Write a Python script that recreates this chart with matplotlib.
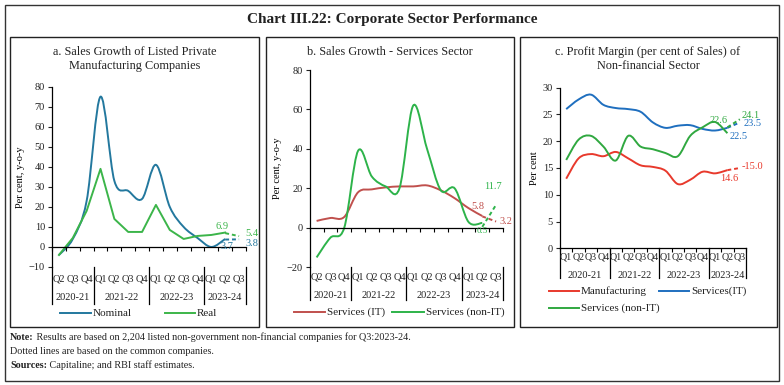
import matplotlib
matplotlib.use("Agg")
import matplotlib.pyplot as plt
from matplotlib.path import Path
from matplotlib.patches import PathPatch, Rectangle
from matplotlib.transforms import blended_transform_factory
import numpy as np

plt.rcParams['font.family'] = ['Liberation Serif', 'DejaVu Serif']

# ---- data ----
quarters_ab = ['Q2', 'Q3', 'Q4', 'Q1', 'Q2', 'Q3', 'Q4', 'Q1', 'Q2', 'Q3', 'Q4', 'Q1', 'Q2', 'Q3']
quarters_c = ['Q1', 'Q2', 'Q3', 'Q4', 'Q1', 'Q2', 'Q3', 'Q4', 'Q1', 'Q2', 'Q3', 'Q4', 'Q1', 'Q2', 'Q3']
years = ['2020-21', '2021-22', '2022-23', '2023-24']
year_counts_ab = [3, 4, 4, 3]
year_counts_c = [4, 4, 4, 3]

# panel a: sales growth of listed private manufacturing companies (per cent, y-o-y)
nominal = [-4, 4, 23, 75, 33, 28, 24, 41, 20, 10, 4.5, 0, 4.0]
nominal_common = [3.7, 3.8]
real = [-4, 4.5, 18, 39, 14, 7.5, 7.5, 21, 8.5, 4, 5.5, 6, 7.2]
real_common = [6.9, 5.4]

# panel b: sales growth of services sector
serv_it = [3.5, 5, 5.5, 18, 19.5, 20.5, 21, 21, 21.5, 19, 15, 10, 6]
serv_it_common = [5.8, 3.2]
serv_nonit = [-15, -5, 0, 39, 26, 21, 20, 62, 40, 19, 20, 3, 2.5]
serv_nonit_common = [0.5, 11.7]

# panel c: profit margin (per cent of sales)
manuf_pm = [13, 16.8, 17.6, 17.2, 18.0, 16.8, 15.5, 15.2, 14.5, 12.0, 12.8, 14.3, 14.0, 14.6]
manuf_pm_common = [14.6, 15.0]
it_pm = [26.0, 27.8, 28.7, 26.8, 26.2, 26.0, 25.5, 23.5, 22.5, 22.9, 23.0, 22.3, 22.0, 22.5]
it_pm_common = [22.5, 23.5]
nonit_pm = [16.5, 20.3, 21.0, 19.0, 16.4, 21.0, 19.0, 18.5, 17.8, 17.2, 21.0, 22.6, 23.6, 21.5]
nonit_pm_common = [22.6, 24.1]

W, H = 784, 385
fig = plt.figure(figsize=(W / 100, H / 100), dpi=100)
TXT = '#222222'


def fx(px):
    return px / W


def fy(py):
    return 1 - py / H


def smooth(ax, xs, ys, color, lw=1.4, ls='-'):
    # Excel-like smoothed line drawn as bezier path through the points
    pts = np.column_stack([xs, ys]).astype(float)
    n = len(pts)
    verts = [pts[0]]
    codes = [Path.MOVETO]
    for i in range(n - 1):
        p0 = pts[max(i - 1, 0)]
        p1 = pts[i]
        p2 = pts[i + 1]
        p3 = pts[min(i + 2, n - 1)]
        verts += [p1 + (p2 - p0) / 6, p2 - (p3 - p1) / 6, p2]
        codes += [Path.CURVE4] * 3
    ax.add_patch(PathPatch(Path(verts, codes), fill=False, edgecolor=color, lw=lw, ls=ls))


def setup_axes(rect_px, ylim, yticks, quarters, counts, zero_line, lab_y, year_y, div_bot, ylabel, qsize=7.5):
    l, t, r, b = rect_px
    ax = fig.add_axes([fx(l), fy(b), fx(r - l), (b - t) / H])
    n = len(quarters)
    ax.set_xlim(-0.5, n - 0.5)
    ax.set_ylim(*ylim)
    ax.set_yticks(yticks)
    ax.tick_params(axis='y', labelsize=7.5, length=3, width=0.8, pad=2, colors=TXT)
    for s in ['top', 'right']:
        ax.spines[s].set_visible(False)
    ax.spines['left'].set_linewidth(0.9)
    ax.spines['bottom'].set_linewidth(0.9)
    if zero_line:
        ax.spines['bottom'].set_position(('data', 0))
    ax.set_xticks(np.arange(n + 1) - 0.5)
    ax.set_xticklabels([])
    ax.tick_params(axis='x', length=3, width=0.8, direction='out')
    ax.set_ylabel(ylabel, fontsize=7.5, labelpad=3)
    ax.patch.set_alpha(0)
    tr = blended_transform_factory(ax.transData, fig.transFigure)
    for i, q in enumerate(quarters):
        ax.text(i, fy(lab_y), q, transform=tr, ha='center', va='center', fontsize=qsize, color=TXT)
    start = 0
    bounds = [-0.5]
    for yr, c in zip(years, counts):
        ax.text(start + (c - 1) / 2, fy(year_y), yr, transform=tr, ha='center', va='center',
                fontsize=7.5, color=TXT)
        start += c
        bounds.append(start - 0.5)
    for bx in bounds:
        ax.plot([bx, bx], [fy(b), fy(div_bot)], transform=tr, color='black', lw=0.9, clip_on=False)
    return ax


def legend_line(x0, x1, y, color, label):
    fig.add_artist(plt.Line2D([fx(x0), fx(x1)], [fy(y), fy(y)], color=color, lw=1.4))
    fig.text(fx(x1 + 2), fy(y), label, ha='left', va='center', fontsize=8, color=TXT)


def label(ax, text, xy, off, color, size=7.5):
    ax.annotate(text, xy, xytext=off, textcoords='offset points', fontsize=size,
                color=color, ha='center', va='center')


# frames
fig.add_artist(Rectangle((fx(5), fy(381)), fx(774), 376 / H, fill=False, lw=1.0, ec='#333333'))
for l, r in [(10, 259), (266, 514), (520, 777)]:
    fig.add_artist(Rectangle((fx(l), fy(327)), fx(r - l), 290 / H, fill=False, lw=1.0, ec=TXT))

fig.text(0.5, fy(19), 'Chart III.22: Corporate Sector Performance', ha='center', va='center',
         fontsize=11, fontweight='bold', color=TXT)

# panel a
c_nom, c_real = '#23789e', '#3cb54a'
ax = setup_axes((52, 86.7, 246, 267), (-10, 80), range(-10, 81, 10), quarters_ab, year_counts_ab,
                True, 279, 297, 304, 'Per cent, y-o-y')
fig.text(fx(135), fy(59), 'a. Sales Growth of Listed Private\nManufacturing Companies', fontsize=8.8,
         color=TXT, ha='center', va='center', linespacing=1.25)
x = np.arange(len(nominal))
smooth(ax, x, nominal, c_nom)
ax.plot(x, real, color=c_real, lw=1.4)
xc = [len(nominal) - 1, len(nominal)]
ax.plot(xc, nominal_common, color=c_nom, lw=1.4, ls=(0, (2, 1.5)))
ax.plot(xc, real_common, color=c_real, lw=1.4, ls=(0, (2, 1.5)))
label(ax, f'{real_common[0]}', (xc[0], real_common[0]), (-2, 5), c_real)
label(ax, f'{real_common[1]}', (xc[1], real_common[1]), (9, 2), c_real)
label(ax, f'{nominal_common[0]}', (xc[0], nominal_common[0]), (1, -5), c_nom)
label(ax, f'{nominal_common[1]}', (xc[1], nominal_common[1]), (9, -3), c_nom)
legend_line(60, 91, 313, c_nom, 'Nominal')
legend_line(165, 195, 313, c_real, 'Real')

# panel b
c_it, c_nit = '#c0504d', '#2db34a'
ax = setup_axes((309.7, 70, 503, 267.3), (-20, 80), range(-20, 81, 20), quarters_ab, year_counts_ab,
                True, 277, 296, 300, 'Per cent, y-o-y')
fig.text(fx(390), fy(52), 'b. Sales Growth - Services Sector', fontsize=8.8, color=TXT,
         ha='center', va='center')
x = np.arange(len(serv_it))
smooth(ax, x, serv_it, c_it)
smooth(ax, x, serv_nonit, c_nit)
xc = [len(serv_it) - 1, len(serv_it)]
ax.plot(xc, serv_it_common, color=c_it, lw=1.4, ls=(0, (2, 1.5)))
ax.plot(xc, serv_nonit_common, color=c_nit, lw=1.4, ls=(0, (2, 1.5)))
label(ax, f'{serv_nonit_common[1]}', (xc[1], serv_nonit_common[1]), (-2, 13), c_nit)
label(ax, f'{serv_it_common[0]}', (xc[0], serv_it_common[0]), (-3, 7), c_it)
label(ax, f'{serv_nonit_common[0]}', (xc[0], serv_nonit_common[0]), (0, -3), c_nit, 6.5)
label(ax, f'{serv_it_common[1]}', (xc[1], serv_it_common[1]), (7, 0), c_it)
legend_line(294, 325, 312, c_it, 'Services (IT)')
legend_line(392, 424, 312, c_nit, 'Services (non-IT)')

# panel c
c_m, c_i, c_n = '#e8392c', '#1f6fbf', '#30a840'
ax = setup_axes((560, 87.7, 746, 248.3), (0, 30), range(0, 31, 5), quarters_c, year_counts_c,
                False, 257, 275, 278, 'Per cent', qsize=7.2)
fig.text(fx(648), fy(59), 'c. Profit Margin (per cent of Sales) of\nNon-financial Sector', fontsize=8.8,
         color=TXT, ha='center', va='center', linespacing=1.25)
x = np.arange(len(manuf_pm))
smooth(ax, x, manuf_pm, c_m)
smooth(ax, x, it_pm, c_i)
smooth(ax, x, nonit_pm, c_n)
xc = [len(manuf_pm) - 1, len(manuf_pm)]
for vals, col in [(manuf_pm_common, c_m), (it_pm_common, c_i), (nonit_pm_common, c_n)]:
    ax.plot(xc, vals, color=col, lw=1.4, ls=(0, (2, 1.5)))
label(ax, f'{nonit_pm_common[0]}', (xc[0], nonit_pm_common[0]), (-6, 5), c_n)
label(ax, f'{nonit_pm_common[1]}', (xc[1], nonit_pm_common[1]), (8, 3), c_n)
label(ax, f'{it_pm_common[1]}', (xc[1], it_pm_common[1]), (9, -1), c_i)
label(ax, f'{it_pm_common[0]}', (xc[0], it_pm_common[0]), (8, -6), c_i)
label(ax, f'-{manuf_pm_common[1]}', (xc[1], manuf_pm_common[1]), (9, 1), c_m)
label(ax, f'{manuf_pm_common[0]}', (xc[0], manuf_pm_common[0]), (1, -6), c_m)
legend_line(549, 579, 291, c_m, 'Manufacturing')
legend_line(659, 689, 291, c_i, 'Services(IT)')
legend_line(549, 579, 308, c_n, 'Services (non-IT)')

# notes
renderer = fig.canvas.get_renderer()
note_size = 7.3
for y, head, rest in [(337, 'Note:', ' Results are based on 2,204 listed non-government non-financial companies for Q3:2023-24.'),
                      (351, '', 'Dotted lines are based on the common companies.'),
                      (365, 'Sources:', ' Capitaline; and RBI staff estimates.')]:
    x0 = fx(10)
    if head:
        t = fig.text(x0, fy(y), head, fontsize=note_size, fontweight='bold', va='center', color=TXT)
        x0 = fig.transFigure.inverted().transform((t.get_window_extent(renderer).x1, 0))[0]
    fig.text(x0, fy(y), rest, fontsize=note_size, va='center', color=TXT)

fig.savefig('out.png', dpi=100)
